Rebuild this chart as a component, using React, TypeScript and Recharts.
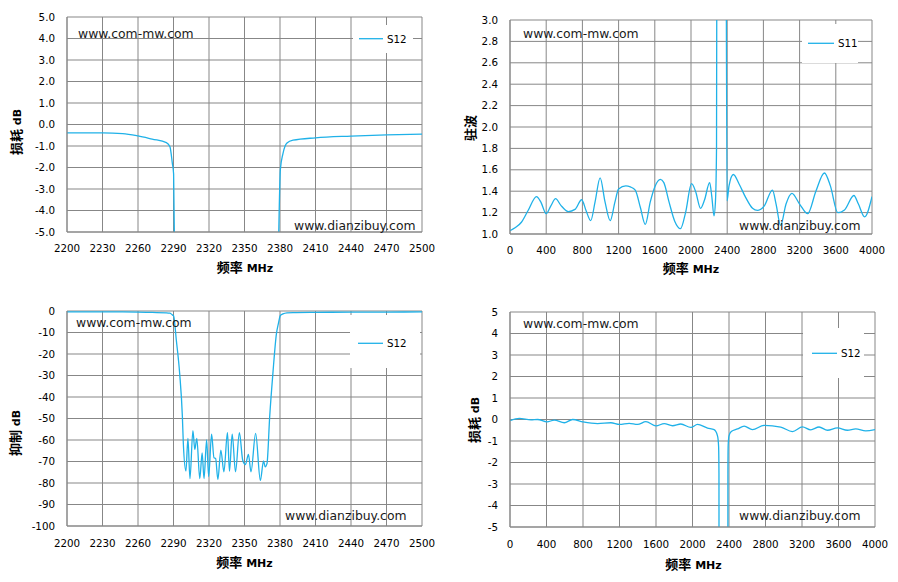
import React from "react";
import { LineChart, Line, XAxis, YAxis, CartesianGrid, Legend } from "recharts";

// S12, 2200-2500 MHz (used by the zoomed loss chart and the rejection chart)
const nbFreq = [
  2200, 2215, 2230, 2247, 2260, 2272, 2284, 2287, 2289, 2290.1, 2292.4, 2295.2, 2297.5,
  2298.3, 2300.5, 2302.2, 2303.9, 2306.4, 2308, 2309.7, 2312.2, 2314.2, 2315.8, 2318,
  2319.7, 2322.2, 2324.2, 2325.6, 2327.5, 2330, 2332.6, 2335.6, 2337.3, 2339.6, 2342.4,
  2345.7, 2348.5, 2350.8, 2353.3, 2355.5, 2359.4, 2363.4, 2366.1, 2367.5, 2369, 2371.3,
  2374, 2377, 2378.6, 2380.3, 2382.5, 2385.9, 2391, 2410, 2440, 2470, 2500,
];
const nbS12 = [
  -0.39, -0.39, -0.39, -0.42, -0.53, -0.68, -0.84, -1.04, -1.8, -2.3, -13.6, -29, -49,
  -61.5, -74.4, -59.2, -78, -55.6, -64.4, -59.2, -78, -66, -78, -60,
  -77, -57.3, -68.3, -68.6, -78.4, -64.7, -74.8, -56.6, -74.5, -57.3, -74.8,
  -56.6, -69.4, -71.4, -66.7, -74.8, -56.9, -78.8, -69.7, -72.5, -71, -49,
  -29, -10.5, -6, -2.1, -1.35, -0.86, -0.73, -0.62, -0.54, -0.48, -0.45,
];

// S11 VSWR, 0-4000 MHz
const wbS11Freq = [
  0, 60, 126, 200, 293, 340, 400, 450, 504, 560, 644, 718, 792, 840, 892, 940, 996, 1050,
  1107, 1160, 1200, 1280, 1330, 1384, 1440, 1495, 1550, 1600, 1662, 1700, 1754, 1820, 1884,
  1940, 2006, 2050, 2106, 2150, 2206, 2230, 2254, 2270, 2282, 2286, 2300, 2380, 2388, 2398,
  2420, 2468, 2530, 2605, 2680, 2734, 2808, 2900, 2940, 2990, 3050, 3115, 3200, 3289, 3380,
  3474, 3540, 3622, 3696, 3800, 3850, 3918, 4000,
];
const wbS11 = [
  1.03, 1.06, 1.11, 1.22, 1.35, 1.3, 1.19, 1.26, 1.33, 1.27, 1.21, 1.23, 1.32, 1.22, 1.125, 1.3, 1.525, 1.3,
  1.125, 1.3, 1.42, 1.45, 1.44, 1.41, 1.25, 1.09, 1.3, 1.44, 1.51, 1.48, 1.31, 1.12, 1.05,
  1.2, 1.47, 1.4, 1.24, 1.32, 1.48, 1.35, 1.17, 1.3, 1.8, 4, 8, 8, 4, 1.31,
  1.45, 1.556, 1.47, 1.34, 1.24, 1.22, 1.26, 1.41, 1.28, 1.08, 1.28, 1.38, 1.28, 1.19, 1.4,
  1.57, 1.45, 1.2, 1.225, 1.36, 1.28, 1.16, 1.35,
];

// S12 loss, 0-4000 MHz
const wbS12Freq = [
  0, 102, 230, 303, 405, 485, 595, 686, 800, 960, 1106, 1200, 1306, 1398, 1489, 1600, 1690,
  1781, 1872, 1982, 2055, 2165, 2237, 2274, 2286, 2290, 2294, 2384, 2388, 2391, 2400, 2425,
  2493, 2566, 2657, 2785, 2967, 3095, 3205, 3296, 3387, 3479, 3588, 3697, 3789, 3898, 4000,
];
const wbS12 = [
  -0.05, 0.05, -0.02, 0.0, -0.11, -0.03, -0.15, 0.0, -0.11, -0.19, -0.15, -0.23, -0.18, -0.23, -0.1, -0.3, -0.19,
  -0.29, -0.21, -0.37, -0.23, -0.4, -0.47, -0.76, -1.24, -2.5, -60, -60, -2.5, -1.2, -0.76, -0.56,
  -0.44, -0.31, -0.47, -0.27, -0.35, -0.56, -0.34, -0.48, -0.35, -0.5, -0.39, -0.5, -0.44, -0.53, -0.47,
];

const nbTicks = [2200, 2230, 2260, 2290, 2320, 2350, 2380, 2410, 2440, 2470, 2500];
const wbTicks = [0, 400, 800, 1200, 1600, 2000, 2400, 2800, 3200, 3600, 4000];
const lossTicks = [-5, -4, -3, -2, -1, 0, 1, 2, 3, 4, 5];
const vswrTicks = [1.0, 1.2, 1.4, 1.6, 1.8, 2.0, 2.2, 2.4, 2.6, 2.8, 3.0];
const rejTicks = [-100, -90, -80, -70, -60, -50, -40, -30, -20, -10, 0];

const zip = (f: number[], v: number[]) => f.map((x, i) => ({ f: x, v: v[i] }));

const BLUE = "#1FB1E8";
const GRID = "#878787";
const TICK_FONT = "'DejaVu Sans', Verdana, sans-serif";
const PAD_L = 60;
const PAD_T = 12;
const PAD_R = 26;
const PAD_B = 30;

type Rect = { left: number; right: number; top: number; bottom: number };

type PanelProps = {
  plot: Rect;
  data: { f: number; v: number }[];
  name: string;
  xTicks: number[];
  yTicks: number[];
  yFmt: (v: number) => string;
  xMargin: number;
  legend: Rect;
  lineX: [number, number];
  lineY: number;
};

const Panel = ({ plot, data, name, xTicks, yTicks, yFmt, xMargin, legend, lineX, lineY }: PanelProps) => {
  const w = plot.right - plot.left;
  const h = plot.bottom - plot.top;
  const ox = plot.left - PAD_L;
  const oy = plot.top - PAD_T;
  const tick = { fill: "#000", fontSize: 10.3, fontFamily: TICK_FONT };

  return (
    <div style={{ position: "absolute", left: ox, top: oy }}>
      <LineChart
        width={w + PAD_L + PAD_R}
        height={h + PAD_T + PAD_B}
        data={data}
        margin={{ top: PAD_T, right: PAD_R, bottom: 0, left: 0 }}
      >
        <CartesianGrid stroke={GRID} strokeWidth={1} />
        <XAxis
          dataKey="f"
          type="number"
          domain={[xTicks[0], xTicks[xTicks.length - 1]]}
          ticks={xTicks}
          interval={0}
          height={PAD_B}
          tickLine={false}
          tickSize={0}
          tickMargin={xMargin}
          axisLine={{ stroke: GRID }}
          tick={tick}
          allowDataOverflow
        />
        <YAxis
          type="number"
          domain={[yTicks[0], yTicks[yTicks.length - 1]]}
          ticks={yTicks}
          interval={0}
          width={PAD_L}
          tickLine={false}
          tickSize={0}
          tickMargin={12}
          axisLine={{ stroke: GRID }}
          tick={tick}
          tickFormatter={yFmt}
          allowDataOverflow
        />
        <Legend
          layout="vertical"
          align="center"
          verticalAlign="middle"
          wrapperStyle={{
            left: legend.left - ox,
            top: legend.top - oy,
            width: legend.right - legend.left,
            height: legend.bottom - legend.top,
          }}
          content={() => (
            <div
              style={{
                position: "relative",
                width: legend.right - legend.left,
                height: legend.bottom - legend.top,
                background: "#fff",
              }}
            >
              <svg
                style={{ position: "absolute", left: 0, top: 0 }}
                width={legend.right - legend.left}
                height={legend.bottom - legend.top}
              >
                <line
                  x1={lineX[0] - legend.left}
                  x2={lineX[1] - legend.left}
                  y1={lineY - legend.top}
                  y2={lineY - legend.top}
                  stroke={BLUE}
                  strokeWidth={1.3}
                />
                <text
                  x={lineX[1] - legend.left + 4}
                  y={lineY - legend.top + 4}
                  fontSize={10.3}
                  fontFamily={TICK_FONT}
                  fill="#000"
                >
                  {name}
                </text>
              </svg>
            </div>
          )}
        />
        <Line
          type="monotone"
          dataKey="v"
          name={name}
          stroke={BLUE}
          strokeWidth={1.3}
          dot={false}
          isAnimationActive={false}
        />
      </LineChart>
    </div>
  );
};

const Title = ({ x, y, cjk, latin, rotate }: { x: number; y: number; cjk: string; latin: string; rotate?: boolean }) => (
  <div
    style={{
      position: "absolute",
      left: x,
      top: y,
      transform: `translate(-50%, -50%)${rotate ? " rotate(-90deg)" : ""}`,
      whiteSpace: "nowrap",
      fontWeight: "bold",
      color: "#000",
      lineHeight: "14px",
    }}
  >
    <span style={{ fontFamily: "'Noto Sans CJK SC'", fontSize: 13 }}>{cjk}</span>
    {latin && <span style={{ fontFamily: TICK_FONT, fontSize: 11 }}> {latin}</span>}
  </div>
);

const Mark = ({ x, y, text }: { x: number; y: number; text: string }) => (
  <div
    style={{
      position: "absolute",
      left: x,
      top: y,
      fontFamily: TICK_FONT,
      fontSize: 12.4,
      lineHeight: "14px",
      color: "#1a1a1a",
      whiteSpace: "nowrap",
    }}
  >
    {text}
  </div>
);

const fmt1 = (v: number) => v.toFixed(1);
const fmt0 = (v: number) => String(v);

export default function App() {
  const nb = zip(nbFreq, nbS12);
  return (
    <div style={{ position: "absolute", left: 0, top: 0, width: 898, height: 582, background: "#fff", overflow: "hidden" }}>
      <Panel
        plot={{ left: 67, right: 422, top: 17, bottom: 232 }}
        data={nb}
        name="S12"
        xTicks={nbTicks}
        yTicks={lossTicks}
        yFmt={fmt1}
        xMargin={12.5}
        legend={{ left: 353, right: 413, top: 25, bottom: 53 }}
        lineX={[359, 383]}
        lineY={38.7}
      />
      <Panel
        plot={{ left: 510, right: 872, top: 20, bottom: 234 }}
        data={zip(wbS11Freq, wbS11)}
        name="S11"
        xTicks={wbTicks}
        yTicks={vswrTicks}
        yFmt={fmt1}
        xMargin={13}
        legend={{ left: 802, right: 858, top: 24, bottom: 63 }}
        lineX={[808, 834]}
        lineY={43.3}
      />
      <Panel
        plot={{ left: 67, right: 422, top: 311, bottom: 526 }}
        data={nb}
        name="S12"
        xTicks={nbTicks}
        yTicks={rejTicks}
        yFmt={fmt0}
        xMargin={14}
        legend={{ left: 350, right: 420, top: 315, bottom: 368 }}
        lineX={[358, 383]}
        lineY={343.3}
      />
      <Panel
        plot={{ left: 510, right: 875, top: 312, bottom: 527 }}
        data={zip(wbS12Freq, wbS12)}
        name="S12"
        xTicks={wbTicks}
        yTicks={lossTicks}
        yFmt={fmt0}
        xMargin={14}
        legend={{ left: 803, right: 864, top: 328, bottom: 378 }}
        lineX={[812, 837]}
        lineY={353.3}
      />

      <Mark x={78} y={27} text="www.com-mw.com" />
      <Mark x={294} y={219} text="www.dianzibuy.com" />
      <Mark x={523} y={27} text="www.com-mw.com" />
      <Mark x={739} y={219} text="www.dianzibuy.com" />
      <Mark x={76} y={316} text="www.com-mw.com" />
      <Mark x={285} y={509} text="www.dianzibuy.com" />
      <Mark x={523} y={317} text="www.com-mw.com" />
      <Mark x={739} y={509} text="www.dianzibuy.com" />

      <Title x={16.5} y={131.5} cjk="损耗" latin="dB" rotate />
      <Title x={470} y={127.5} cjk="驻波" latin="" rotate />
      <Title x={16} y={433.4} cjk="抑制" latin="dB" rotate />
      <Title x={475} y={420} cjk="损耗" latin="dB" rotate />

      <Title x={245} y={267.5} cjk="频率" latin="MHz" />
      <Title x={691} y={269} cjk="频率" latin="MHz" />
      <Title x={244.5} y={562.5} cjk="频率" latin="MHz" />
      <Title x={693.5} y={564.5} cjk="频率" latin="MHz" />
    </div>
  );
}
